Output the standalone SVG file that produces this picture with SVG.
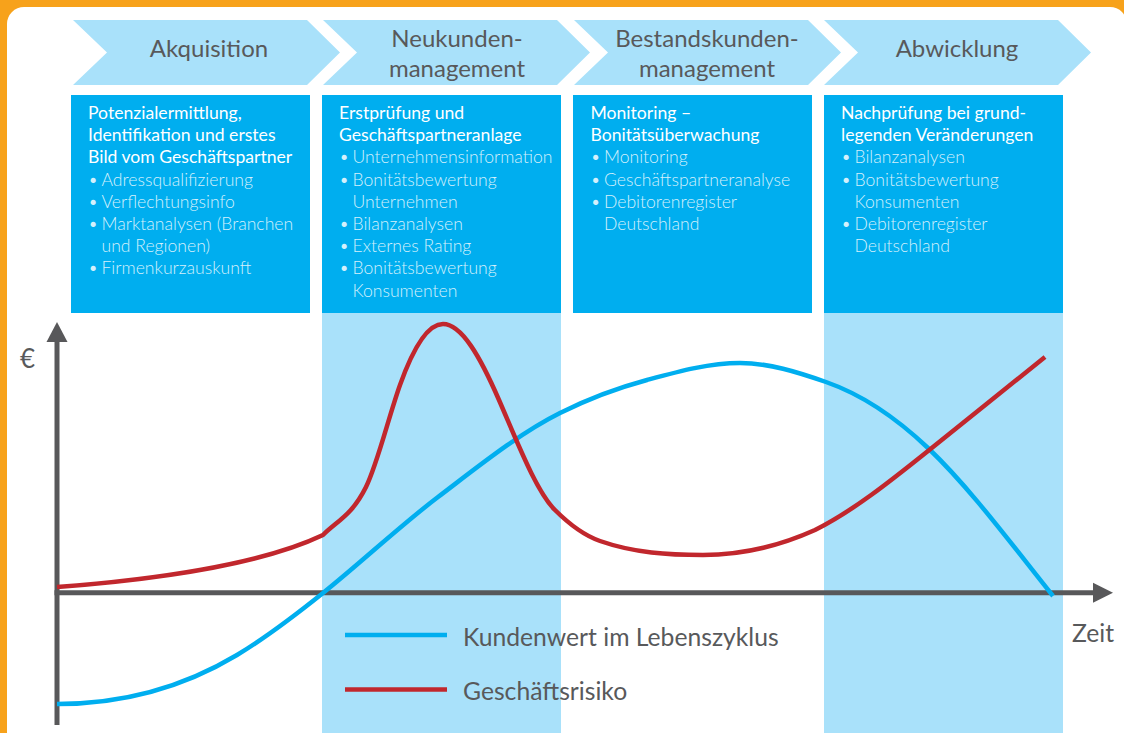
<svg xmlns="http://www.w3.org/2000/svg" width="1124" height="733" viewBox="0 0 1124 733">
<style>
.chev{fill:#A9E1FA}
.chevt{font-family:Lato,"Liberation Sans",sans-serif;font-size:24px;fill:#58595B;text-anchor:middle}
.box{fill:#00AEEF}
.col{fill:#A9E1FA}
.h{font-family:Lato,"Liberation Sans",sans-serif;font-size:17.6px;fill:#FFFFFF}
.b{font-family:Lato,"Liberation Sans",sans-serif;font-size:17.6px;font-weight:300;fill:#D4F0FC}
.axis{stroke:#58585A;stroke-width:5;fill:none}
.axh{fill:#58585A}
.lab{font-family:Lato,"Liberation Sans",sans-serif;font-size:24.7px;fill:#58595B}
.blue{stroke:#00AEEF;stroke-width:4.5;fill:none}
.red{stroke:#C1272D;stroke-width:4.5;fill:none}
</style>
<rect x="0" y="0" width="1124" height="733" fill="#F7A21B"/>
<rect x="7" y="7" width="1120" height="745" rx="17" fill="#FFFFFF"/>

<rect class="col" x="322" y="312" width="239" height="421"/>
<rect class="col" x="824" y="312" width="239" height="421"/>

<g id="phase-akquisition">
<polygon class="chev" points="73,20 307,20 340,52.5 307,85 73,85 107,52.5"/>
<text class="chevt" x="209" y="57">Akquisition</text>
</g>
<g id="phase-neukunden">
<polygon class="chev" points="323,20 557,20 590,52.5 557,85 323,85 357,52.5"/>
<text class="chevt" x="457" y="47">Neukunden-</text>
<text class="chevt" x="457" y="77">management</text>
</g>
<g id="phase-bestandskunden">
<polygon class="chev" points="574,20 808,20 841,52.5 808,85 574,85 608,52.5"/>
<text class="chevt" x="707" y="47">Bestandskunden-</text>
<text class="chevt" x="707" y="77">management</text>
</g>
<g id="phase-abwicklung">
<polygon class="chev" points="824,20 1058,20 1091,52.5 1058,85 824,85 858,52.5"/>
<text class="chevt" x="957" y="57">Abwicklung</text>
</g>

<g id="box-akquisition">
<rect class="box" x="71" y="95" width="239" height="218"/>
<text class="h" x="88" y="119">Potenzialermittlung,</text>
<text class="h" x="88" y="141.2">Identifikation und erstes</text>
<text class="h" x="88" y="163.4">Bild vom Geschäftspartner</text>
<text class="b" x="88" y="185.6">•</text><text class="b" x="101.5" y="185.6">Adressqualifizierung</text>
<text class="b" x="88" y="207.8">•</text><text class="b" x="101.5" y="207.8">Verflechtungsinfo</text>
<text class="b" x="88" y="230">•</text><text class="b" x="101.5" y="230">Marktanalysen (Branchen</text>
<text class="b" x="101.5" y="252.2">und Regionen)</text>
<text class="b" x="88" y="274.4">•</text><text class="b" x="101.5" y="274.4">Firmenkurzauskunft</text>
</g>
<g id="box-neukunden">
<rect class="box" x="322" y="95" width="239" height="218"/>
<text class="h" x="339" y="119">Erstprüfung und</text>
<text class="h" x="339" y="141.2">Geschäftspartneranlage</text>
<text class="b" x="339" y="163.4">•</text><text class="b" x="352.5" y="163.4">Unternehmensinformation</text>
<text class="b" x="339" y="185.6">•</text><text class="b" x="352.5" y="185.6">Bonitätsbewertung</text>
<text class="b" x="352.5" y="207.8">Unternehmen</text>
<text class="b" x="339" y="230">•</text><text class="b" x="352.5" y="230">Bilanzanalysen</text>
<text class="b" x="339" y="252.2">•</text><text class="b" x="352.5" y="252.2">Externes Rating</text>
<text class="b" x="339" y="274.4">•</text><text class="b" x="352.5" y="274.4">Bonitätsbewertung</text>
<text class="b" x="352.5" y="296.6">Konsumenten</text>
</g>
<g id="box-bestandskunden">
<rect class="box" x="573" y="95" width="239" height="218"/>
<text class="h" x="590.5" y="119">Monitoring –</text>
<text class="h" x="590.5" y="141.2">Bonitätsüberwachung</text>
<text class="b" x="590.5" y="163.4">•</text><text class="b" x="604" y="163.4">Monitoring</text>
<text class="b" x="590.5" y="185.6">•</text><text class="b" x="604" y="185.6">Geschäftspartneranalyse</text>
<text class="b" x="590.5" y="207.8">•</text><text class="b" x="604" y="207.8">Debitorenregister</text>
<text class="b" x="604" y="230">Deutschland</text>
</g>
<g id="box-abwicklung">
<rect class="box" x="824" y="95" width="239" height="218"/>
<text class="h" x="841" y="119">Nachprüfung bei grund-</text>
<text class="h" x="841" y="141.2">legenden Veränderungen</text>
<text class="b" x="841" y="163.4">•</text><text class="b" x="854.5" y="163.4">Bilanzanalysen</text>
<text class="b" x="841" y="185.6">•</text><text class="b" x="854.5" y="185.6">Bonitätsbewertung</text>
<text class="b" x="854.5" y="207.8">Konsumenten</text>
<text class="b" x="841" y="230">•</text><text class="b" x="854.5" y="230">Debitorenregister</text>
<text class="b" x="854.5" y="252.2">Deutschland</text>
</g>

<g id="connectors">
<path class="axis" d="M57,725 V340"/>
<polygon class="axh" points="57,322 67.5,342 46.5,342"/>
<path class="axis" d="M54.5,592.7 H1095"/>
<polygon class="axh" points="1113,592.7 1093,582.7 1093,602.7"/>
<path id="kundenwert" class="blue" d="M57,704 C117,704 177,691 237,655 C265.7,637.8 294.3,616 323,593 C361.3,562.3 399.7,526.1 438,497 C478.7,466.1 519.3,433.3 560,413 C589,398.5 618,387.8 647,380 C678,371.6 709,363 740,363 C768.7,363 797.3,372 826,382 C860,393.9 894,415.7 928,448 C969.7,487.6 1011.3,543.9 1053,596"/>
<path id="risiko" class="red" d="M57,587 C150,580 260,565 323,535 C337.3,520.7 351.7,515.7 366,487 C377.3,464.3 388.7,416.7 400,385 C414.3,345 428.7,324 443,324 C461.7,324 480.3,357 499,400 C517.7,443 536.3,491.3 555,510 C570,525 585,535.75 600,541 C634.3,553 668.7,555 703,555 C740.3,555 777.7,546.8 815,530 C852.7,511.2 890.3,481.2 928,451 C967,419.8 1006,388.2 1045,357"/>
</g>

<text class="lab" x="20" y="368" style="font-size:26px">€</text>
<text class="lab" x="1072" y="642">Zeit</text>

<g id="legend">
<line class="blue" x1="345" y1="635" x2="447" y2="635"/>
<text class="lab" x="463" y="646">Kundenwert im Lebenszyklus</text>
<line class="red" x1="345" y1="689.5" x2="447" y2="689.5"/>
<text class="lab" x="463" y="700">Geschäftsrisiko</text>
</g>
</svg>
